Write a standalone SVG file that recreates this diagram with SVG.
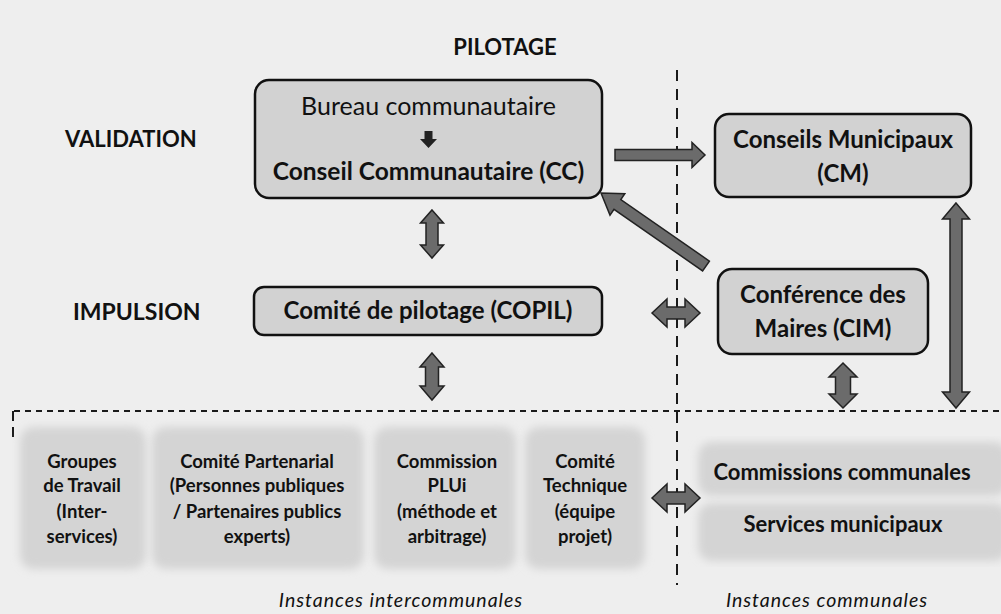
<svg xmlns="http://www.w3.org/2000/svg" width="1001" height="614" viewBox="0 0 1001 614">
<defs>
<filter id="soft" x="-10%" y="-10%" width="120%" height="120%"><feGaussianBlur stdDeviation="4"/></filter>
<style>
.t{font-family:Lato,"Liberation Sans",sans-serif;fill:#111;text-anchor:middle}
.b{font-weight:bold}
.lab{font-family:Lato,"Liberation Sans",sans-serif;font-weight:bold;fill:#111}
.box{fill:#d2d2d2;stroke:#111;stroke-width:2.5}
.blk{fill:#d4d4d4;filter:url(#soft)}
.arr{fill:#6b6b6b;stroke:#222;stroke-width:1.5;stroke-linejoin:miter}
.s{font-size:18.5px}
.it{font-family:Lato,"Liberation Sans",sans-serif;font-style:italic;font-size:19.5px;fill:#111;text-anchor:middle;letter-spacing:1px}
</style>
</defs>
<rect width="1001" height="614" fill="#eeeeee"/>
<text class="t b" x="505" y="55" font-size="22">PILOTAGE</text>
<text class="lab" x="65" y="147" font-size="22">VALIDATION</text>
<text class="lab" x="73" y="320" font-size="23">IMPULSION</text>

<g id="dividers" stroke="#1a1a1a" stroke-width="2" fill="none">
<line x1="677" y1="70" x2="677" y2="585" stroke-dasharray="11 8"/>
<line x1="14" y1="411" x2="1001" y2="411" stroke-dasharray="6 5"/>
<line x1="13" y1="411" x2="13" y2="438" stroke-dasharray="10 6"/>
</g>

<g id="bottom-blocks">
<rect class="blk" x="20" y="427" width="126" height="142" rx="14"/>
<rect class="blk" x="152" y="427" width="212" height="142" rx="14"/>
<rect class="blk" x="374" y="427" width="142" height="142" rx="14"/>
<rect class="blk" x="525" y="427" width="120" height="142" rx="14"/>
<rect class="blk" x="698" y="442" width="310" height="54" rx="14"/>
<rect class="blk" x="698" y="503" width="310" height="58" rx="14"/>
</g>

<g id="cc">
<rect class="box" x="255" y="80" width="347" height="118" rx="14"/>
<text class="t" x="428.5" y="115" font-size="25">Bureau communautaire</text>
<polygon points="424.5,131 432.5,131 432.5,139 437,139 428.5,148 420,139 424.5,139" fill="#222"/>
<text class="t b" x="428.5" y="180" font-size="24.5">Conseil Communautaire (CC)</text>
</g>

<g id="cm">
<rect class="box" x="715" y="114" width="256" height="83" rx="14"/>
<text class="t b" x="843" y="148" font-size="24">Conseils Municipaux</text>
<text class="t b" x="843" y="182" font-size="24">(CM)</text>
</g>

<g id="copil">
<rect class="box" x="254" y="287" width="348" height="48" rx="10"/>
<text class="t b" x="428" y="319" font-size="24">Comité de pilotage (COPIL)</text>
</g>

<g id="cim">
<rect class="box" x="718" y="269" width="210" height="85" rx="14"/>
<text class="t b" x="823" y="303" font-size="24">Conférence des</text>
<text class="t b" x="823" y="337" font-size="24">Maires (CIM)</text>
</g>

<g id="groupes">
<text class="t b s" x="82" y="468">Groupes</text>
<text class="t b s" x="82" y="492">de Travail</text>
<text class="t b s" x="82" y="518">(Inter-</text>
<text class="t b s" x="82" y="543">services)</text>
</g>
<g id="partenarial">
<text class="t b s" x="257" y="468">Comité Partenarial</text>
<text class="t b s" x="257" y="492">(Personnes publiques</text>
<text class="t b s" x="257" y="518">/ Partenaires publics</text>
<text class="t b s" x="257" y="543">experts)</text>
</g>
<g id="plui">
<text class="t b s" x="447" y="468">Commission</text>
<text class="t b s" x="447" y="492">PLUi</text>
<text class="t b s" x="447" y="518">(méthode et</text>
<text class="t b s" x="447" y="543">arbitrage)</text>
</g>
<g id="technique">
<text class="t b s" x="585" y="468">Comité</text>
<text class="t b s" x="585" y="492">Technique</text>
<text class="t b s" x="585" y="518">(équipe</text>
<text class="t b s" x="585" y="543">projet)</text>
</g>
<g id="communales">
<text class="t b" x="842" y="480" font-size="22">Commissions communales</text>
</g>
<g id="services">
<text class="t b" x="843" y="532" font-size="22">Services municipaux</text>
</g>

<g id="connectors">
<polygon class="arr" points="615,149.5 692,149.5 692,142.5 705,155 692,167.5 692,160.5 615,160.5"/>
<polygon class="arr" points="601,193 610,215.1 614,209.3 702.6,270.9 709.4,261.1 620.8,199.5 624.8,193.7"/>
<polygon class="arr" points="432,210 443.5,223 438,223 438,245 443.5,245 432,258 420.5,245 426,245 426,223 420.5,223"/>
<polygon class="arr" points="432,353 444,367 438.5,367 438.5,386 444,386 432,400 420,386 425.5,386 425.5,367 420,367"/>
<polygon class="arr" points="843,363 857,377 850.5,377 850.5,394 857,394 843,408 829,394 835.5,394 835.5,377 829,377"/>
<polygon class="arr" points="956,203 969.5,219 962,219 962,392 969.5,392 956,408 942.5,392 950,392 950,219 942.5,219"/>
<polygon class="arr" points="652,313 667,299 667,307 685,307 685,299 700,313 685,327 685,319 667,319 667,327"/>
<polygon class="arr" points="652,498 667,484 667,492 685,492 685,484 700,498 685,512 685,504 667,504 667,512"/>
</g>

<text class="it" x="401" y="607">Instances intercommunales</text>
<text class="it" x="827" y="607">Instances communales</text>
</svg>
